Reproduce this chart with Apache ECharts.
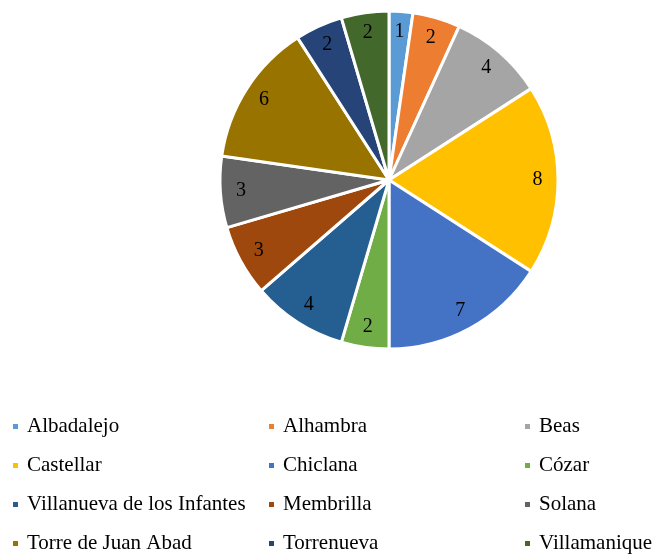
<!DOCTYPE html>
<html><head><meta charset="utf-8">
<script src="https://cdn.jsdelivr.net/npm/echarts@6/dist/echarts.min.js"></script>
<style>html,body{margin:0;padding:0;background:#fff}#c{width:666px;height:554px}</style>
</head><body><div id="c"></div>
<script>
const categories = ["Albadalejo","Alhambra","Beas","Castellar","Chiclana","Cózar","Villanueva de los Infantes","Membrilla","Solana","Torre de Juan Abad","Torrenueva","Villamanique"];
const values = [1,2,4,8,7,2,4,3,3,6,2,2];
const colors = ["#5B9BD5","#ED7D31","#A5A5A5","#FFC000","#4472C4","#70AD47","#255E91","#9E480E","#636363","#997300","#264478","#43682B"];
const legendCols = [
  ["Albadalejo","Castellar","Villanueva de los Infantes","Torre de Juan Abad"],
  ["Alhambra","Chiclana","Membrilla","Torrenueva"],
  ["Beas","Cózar","Solana","Villamanique"]
];
const data = categories.map((n,i)=>({name:n,value:values[i]}));
const font = '"Liberation Serif","Times New Roman",serif';
const legendLefts = [11, 267, 523];
const chart = echarts.init(document.getElementById('c'), null, {renderer:'canvas'});
chart.setOption({
  animation:false,
  color: colors,
  legend: legendCols.map((col,i)=>({
    orient:'vertical', left: legendLefts[i], top: 416, height: 150, padding:0,
    data: col, icon:'rect', itemWidth:7, itemHeight:7, itemGap:18,
    selectedMode:false,
    textStyle:{fontFamily:font, fontSize:21, color:'#000', padding:[0,0,0,3]}
  })),
  series:[
    {type:'pie', radius:[0,169], center:[389,180], startAngle:90, clockwise:true,
     data:data, label:{show:false}, labelLine:{show:false}, silent:true,
     itemStyle:{borderColor:'#fff', borderWidth:3}},
    {type:'pie', radius:[124,167], center:[389,180], startAngle:90, clockwise:true,
     data:data, silent:true, labelLine:{show:false},
     itemStyle:{color:'rgba(0,0,0,0)', borderWidth:0},
     label:{show:true, position:'inside', formatter:'{c}', fontFamily:font, fontSize:20, color:'#000', padding:[7,0,0,0]}}
  ]
});
</script></body></html>
